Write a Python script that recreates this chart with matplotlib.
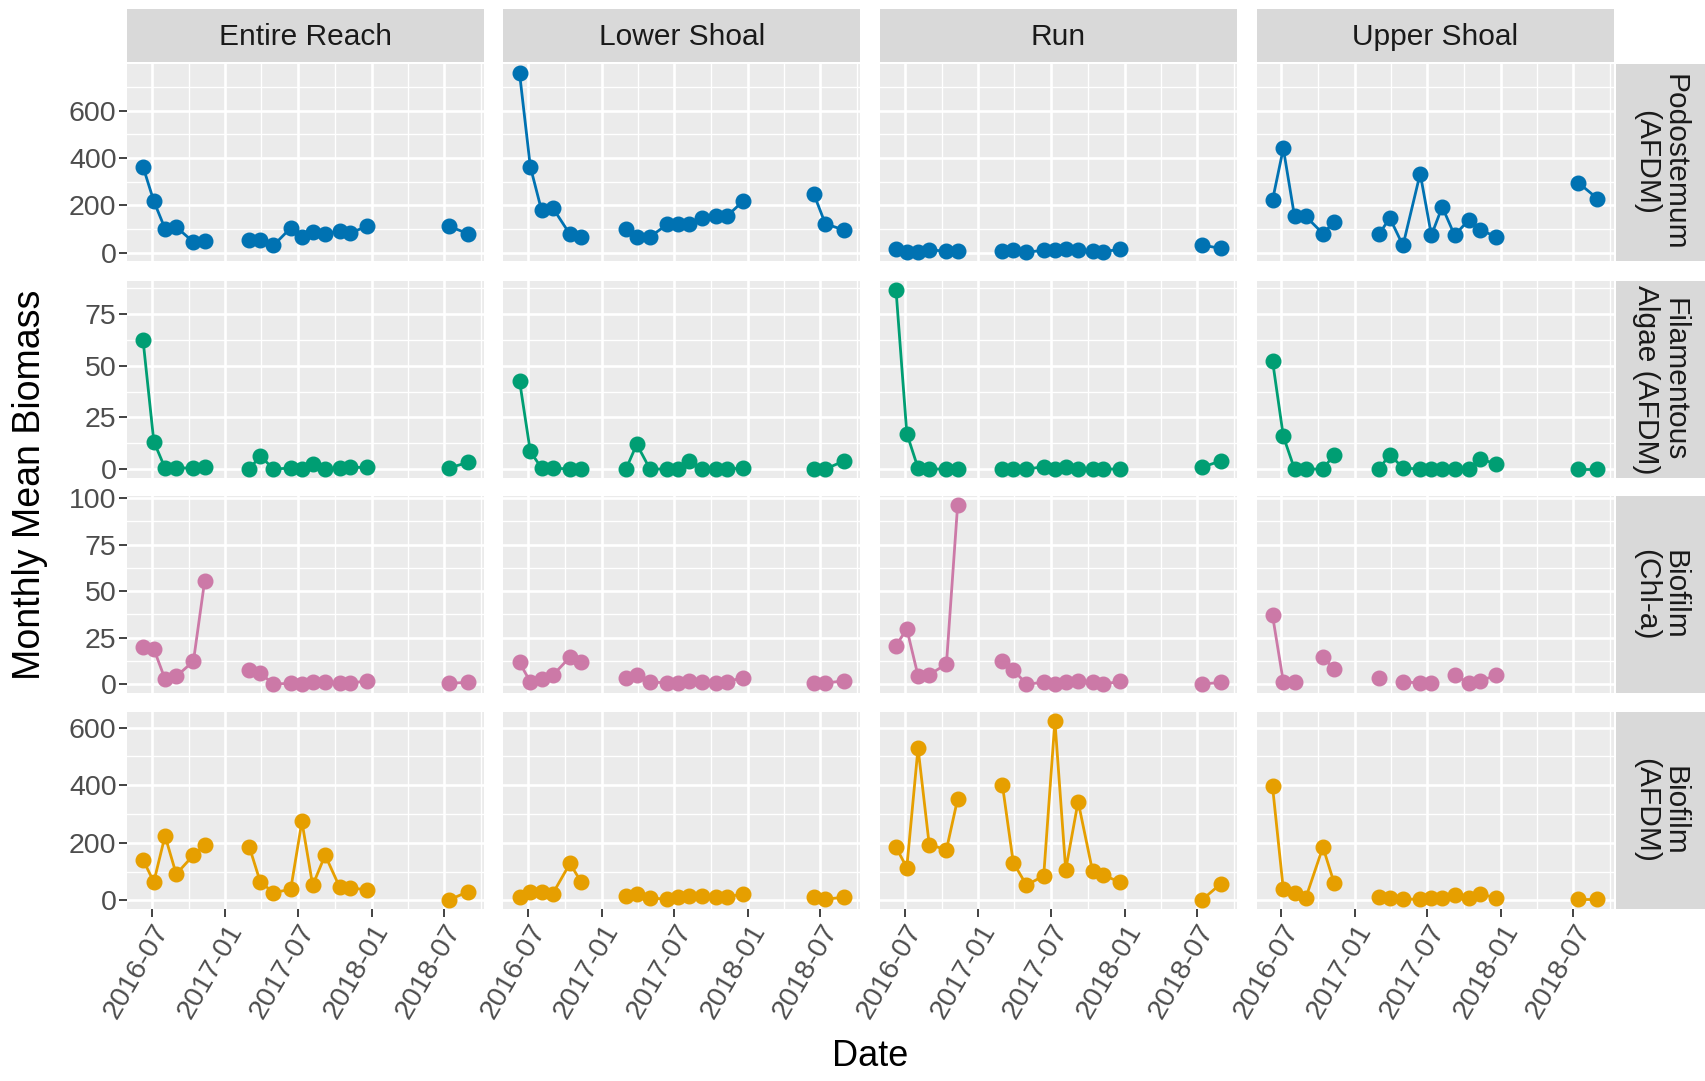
import numpy as np
import matplotlib
matplotlib.use("Agg")
import matplotlib.pyplot as plt
import matplotlib.dates as mdates
from matplotlib.ticker import FixedLocator

plt.rcParams['font.family'] = ['Liberation Sans', 'DejaVu Sans']

# sampling dates (monthly means), three field seasons
dates = np.array(['2016-06-09', '2016-07-06', '2016-08-03', '2016-08-31', '2016-10-13', '2016-11-10',
                  '2017-03-02', '2017-03-29', '2017-05-01', '2017-06-13', '2017-07-11', '2017-08-07',
                  '2017-09-07', '2017-10-13', '2017-11-09', '2017-12-20',
                  '2018-06-14', '2018-07-13', '2018-08-30'], dtype='datetime64[D]')
season = np.array([0] * 6 + [1] * 10 + [2] * 3)

sites = ["Entire Reach", "Lower Shoal", "Run", "Upper Shoal"]
measures = ["Podostemum\n(AFDM)", "Filamentous\nAlgae (AFDM)", "Biofilm\n(Chl-a)", "Biofilm\n(AFDM)"]
colors = ["#0072B2", "#009E73", "#CC79A7", "#E69F00"]
nan = np.nan

podostemum = {
    "Entire Reach": [364, 218, 102, 109, 45, 48, 55, 52, 31, 105, 67, 88, 81, 91, 83, 112, nan, 112, 81],
    "Lower Shoal": [760, 364, 180, 190, 78, 67, 102, 67, 67, 120, 123, 123, 149, 154, 154, 219, 250, 123, 95],
    "Run": [14, 3, 5, 13, 6, 6, 8, 10, 3, 10, 13, 14, 13, 8, 4, 15, nan, 33, 18],
    "Upper Shoal": [222, 441, 154, 154, 81, 130, 78, 147, 31, 335, 74, 194, 74, 140, 98, 67, nan, 296, 229],
}
fil_algae = {
    "Entire Reach": [62.6, 13.3, 0.5, 0.5, 0.5, 1.1, 0, 6.4, 0, 0.5, 0, 2.4, 0, 0.5, 0.8, 0.8, nan, 0.5, 3.2],
    "Lower Shoal": [42.8, 8.5, 0.5, 0.5, 0, 0, 0, 12, 0, 0, 0, 4, 0, 0, 0, 0.5, 0, 0, 4],
    "Run": [86.7, 17.2, 0.5, 0, 0, 0, 0, 0, 0, 1.1, 0, 0.8, 0, 0, 0, 0, nan, 0.8, 4],
    "Upper Shoal": [52.5, 15.9, 0, 0, 0, 7, 0, 7, 0.5, 0, 0, 0, 0, 0, 4.8, 2.6, nan, 0, 0],
}
biofilm_chla = {
    "Entire Reach": [20.2, 18.9, 2.7, 4.1, 12.3, 55.5, 7.7, 5.8, 0, 0.4, 0, 0.9, 0.9, 0.4, 0.4, 1.8, nan, 0.4, 0.9],
    "Lower Shoal": [11.6, 1.2, 2.9, 4.7, 14.5, 11.6, 3.5, 4.7, 1.2, 0.6, 0.6, 1.7, 1.2, 0.6, 1.2, 3.5, 0.6, 0.6, 1.7],
    "Run": [20.7, 29.7, 4.5, 5, 10.8, 96.4, 12.6, 7.6, 0, 0.9, 0, 0.9, 1.4, 0.9, 0, 1.4, nan, 0, 0.9],
    "Upper Shoal": [37, 1.2, 1.2, nan, 14.5, 8, 3, nan, 1.2, 0.6, 0.6, nan, 4.7, 0.6, 1.7, 4.7, nan, nan, nan],
}
biofilm_afdm = {
    "Entire Reach": [141, 64, 224, 91, 157, 192, 184, 64, 27, 38, 274, 52, 157, 47, 44, 36, nan, 1, 30],
    "Lower Shoal": [11, 30, 30, 23, 128, 64, 15, 23, 8, 4, 11, 15, 15, 11, 11, 23, 11, 4, 11],
    "Run": [184, 114, 529, 193, 176, 352, 399, 131, 53, 85, 623, 106, 343, 102, 87, 64, nan, 1, 58],
    "Upper Shoal": [396, 38, 26, 8, 185, 60, 11, 8, 4, 4, 8, 8, 19, 8, 23, 8, nan, 4, 4],
}
data = [podostemum, fil_algae, biofilm_chla, biofilm_afdm]
y_major = [[0, 200, 400, 600], [0, 25, 50, 75], [0, 25, 50, 75, 100], [0, 200, 400, 600]]

x_major = np.array(['2016-07-01', '2017-01-01', '2017-07-01', '2018-01-01', '2018-07-01'], dtype='datetime64[D]')
x_minor = np.array(['2016-04-01', '2016-10-01', '2017-04-01', '2017-10-01', '2018-04-01', '2018-10-01'],
                   dtype='datetime64[D]')

W, H = 1705, 1081
fig = plt.figure(figsize=(W / 100, H / 100), dpi=100)

col_left = [127, 503.5, 880, 1256.5]
col_w = 357
row_top = [64, 281, 496, 712]
row_h = 197

def box(x, y, w, h):
    return [x / W, 1 - (y + h) / H, w / W, h / H]

span = dates.max() - dates.min()
xlim = (dates.min() - span * 0.05, dates.max() + span * 0.05)

grey_bg = "#EBEBEB"
strip_bg = "#D9D9D9"

for r in range(4):
    vals_all = np.concatenate([np.array(data[r][s], dtype=float) for s in sites])
    lo, hi = np.nanmin(vals_all), np.nanmax(vals_all)
    ylim = (lo - 0.05 * (hi - lo), hi + 0.05 * (hi - lo))
    step = y_major[r][1] - y_major[r][0]
    y_minor = np.arange(y_major[r][0] - step / 2, ylim[1], step)
    for c, site in enumerate(sites):
        ax = fig.add_axes(box(col_left[c], row_top[r], col_w, row_h))
        ax.set_facecolor(grey_bg)
        for sp in ax.spines.values():
            sp.set_visible(False)
        vals = np.array(data[r][site], dtype=float)
        for s in range(3):
            m = season == s
            ax.plot(dates[m], vals[m], color=colors[r], lw=2.0, zorder=3)
            ax.plot(dates[m], vals[m], 'o', color=colors[r], ms=10.5, zorder=4)
        ax.set_xlim(xlim)
        ax.set_ylim(ylim)
        ax.xaxis.set_major_locator(FixedLocator(mdates.date2num(x_major)))
        ax.xaxis.set_minor_locator(FixedLocator(mdates.date2num(x_minor)))
        ax.xaxis.set_major_formatter(mdates.DateFormatter('%Y-%m'))
        ax.yaxis.set_major_locator(FixedLocator(y_major[r]))
        ax.yaxis.set_minor_locator(FixedLocator(y_minor))
        ax.grid(which='major', color='white', lw=1.9, zorder=0)
        ax.grid(which='minor', color='white', lw=0.95, zorder=0)
        ax.set_axisbelow(True)
        ax.tick_params(which='major', length=5.5, width=1.3, color='#333333',
                       labelsize=20.5, labelcolor='#4D4D4D', pad=2)
        ax.tick_params(which='minor', length=0)
        if r < 3:
            ax.tick_params(axis='x', which='major', length=0, labelbottom=False)
        else:
            for lab in ax.get_xticklabels():
                lab.set_rotation(60)
                lab.set_ha('right')
                lab.set_rotation_mode('anchor')
        if c > 0:
            ax.tick_params(axis='y', which='major', length=0, labelleft=False)

        if r == 0:
            sax = fig.add_axes(box(col_left[c], 9, col_w, 53))
            sax.set_facecolor(strip_bg)
            sax.set_xticks([])
            sax.set_yticks([])
            for sp in sax.spines.values():
                sp.set_visible(False)
            sax.text(0.5, 0.47, site, ha='center', va='center', fontsize=21.5, color='#1A1A1A',
                     transform=sax.transAxes)
    rax = fig.add_axes(box(1616, row_top[r], 89, row_h))
    rax.set_facecolor(strip_bg)
    rax.set_xticks([])
    rax.set_yticks([])
    for sp in rax.spines.values():
        sp.set_visible(False)
    rax.text(0.5, 0.5, measures[r], ha='center', va='center', rotation=-90, fontsize=21.5,
             color='#1A1A1A', linespacing=1.0, transform=rax.transAxes)

fig.text(30 / W, 1 - 485 / H, "Monthly Mean Biomass", rotation=90, ha='center', va='center', fontsize=27)
fig.text(870 / W, 1 - 1057 / H, "Date", ha='center', va='center', fontsize=26)

fig.savefig("out.png", dpi=100, facecolor='white')
